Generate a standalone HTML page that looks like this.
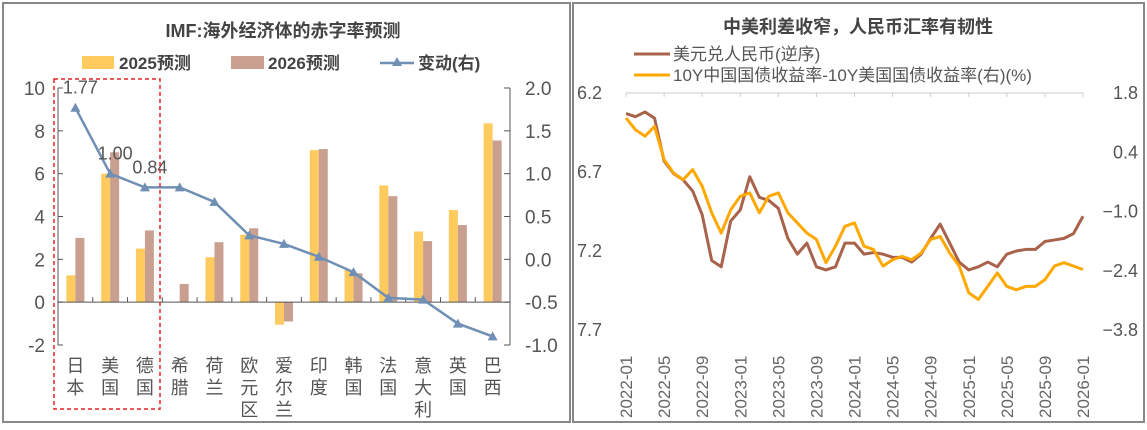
<!DOCTYPE html>
<html><head><meta charset="utf-8"><style>
html,body{margin:0;padding:0;background:#fff;}
body{width:1147px;height:425px;overflow:hidden;font-family:"Liberation Sans","Noto Sans CJK SC",sans-serif;}
svg text{font-family:"Liberation Sans","Noto Sans CJK SC",sans-serif;}
</style></head><body>
<svg id="s" width="1147" height="425" viewBox="0 0 1147 425">
<rect x="3" y="3" width="567" height="419" fill="none" stroke="#888" stroke-width="2"/>
<rect x="573" y="3" width="571" height="419" fill="none" stroke="#888" stroke-width="2"/>
<text x="283" y="37" text-anchor="middle" font-size="18" font-weight="bold" fill="#444">IMF:海外经济体的赤字率预测</text>
<g>
<rect x="82" y="56" width="32" height="13" fill="#FFCA5E"/>
<text x="119" y="69" font-size="17" font-weight="bold" fill="#444">2025预测</text>
<rect x="231" y="56" width="33" height="13" fill="#C9A090"/>
<text x="268" y="69" font-size="17" font-weight="bold" fill="#444">2026预测</text>
<line x1="380" y1="63" x2="414" y2="63" stroke="#6F8FB5" stroke-width="2.5"/>
<polygon points="397,57 402,66 392,66" fill="#6F8FB5"/>
<text x="418" y="69" font-size="17" font-weight="bold" fill="#444">变动(右)</text>
</g>
<g id="left"></g>
<rect x="54" y="79" width="106" height="330" fill="none" stroke="#E82020" stroke-width="1.5" stroke-dasharray="4,3"/>
<text x="858" y="33" text-anchor="middle" font-size="18" font-weight="bold" fill="#444">中美利差收窄，人民币汇率有韧性</text>
<g>
<line x1="634" y1="54" x2="670" y2="54" stroke="#A8634A" stroke-width="3"/>
<text x="673" y="60" font-size="17" fill="#555">美元兑人民币(逆序)</text>
<line x1="634" y1="75" x2="670" y2="75" stroke="#FFA800" stroke-width="3"/>
<text x="673" y="81" font-size="17" fill="#555">10Y中国国债收益率-10Y美国国债收益率(右)(%)</text>
</g>
<g id="right"></g>
</svg>
<script>
const categories=["日本","美国","德国","希腊","荷兰","欧元区","爱尔兰","印度","韩国","法国","意大利","英国","巴西"];
const deficit2025=[1.25,6.0,2.5,null,2.1,3.15,-1.05,7.1,1.5,5.45,3.3,4.3,8.35];
const deficit2026=[3.0,7.0,3.35,0.85,2.8,3.45,-0.9,7.15,1.35,4.95,2.85,3.6,7.55];
const change=[1.77,1.00,0.84,0.84,0.67,0.28,0.18,0.03,-0.15,-0.45,-0.47,-0.75,-0.9];
const changeLabels=["1.77","1.00","0.84"];
const leftTicks=[10,8,6,4,2,0,-2];
const rightTicks=[2.0,1.5,1.0,0.5,0.0,-0.5,-1.0];

const months=["2022-01","2022-05","2022-09","2023-01","2023-05","2023-09","2024-01","2024-05","2024-09","2025-01","2025-05","2025-09","2026-01"];
const cny=[6.33,6.35,6.32,6.36,6.63,6.71,6.75,6.82,6.97,7.26,7.30,7.01,6.94,6.73,6.86,6.88,6.93,7.12,7.22,7.15,7.30,7.32,7.30,7.15,7.15,7.22,7.21,7.22,7.24,7.24,7.27,7.22,7.12,7.03,7.15,7.27,7.32,7.30,7.27,7.30,7.22,7.20,7.19,7.19,7.14,7.13,7.12,7.09,6.98];
const spread=[1.21,0.93,0.78,1.01,0.23,-0.09,-0.25,-0.01,-0.40,-1.03,-1.51,-0.96,-0.64,-0.56,-1.03,-0.64,-0.56,-1.03,-1.27,-1.51,-1.66,-2.21,-1.82,-1.35,-1.27,-1.82,-1.90,-2.29,-2.14,-2.06,-2.14,-1.98,-1.66,-1.59,-1.98,-2.29,-2.92,-3.08,-2.77,-2.45,-2.77,-2.85,-2.77,-2.77,-2.61,-2.29,-2.21,-2.29,-2.37];
const cnyTicks=["6.2","6.7","7.2","7.7"];
const spreadTicks=["1.8","0.4","-1.0","-2.4","-3.8"];

const NS="http://www.w3.org/2000/svg";
function mk(parent,tag,attrs,text){const e=document.createElementNS(NS,tag);for(const k in attrs)e.setAttribute(k,attrs[k]);if(text!==undefined)e.textContent=text;parent.appendChild(e);return e;}

const L=document.getElementById('left');
const x0=58,x1=510,yTop=88,yBot=345;
const yL=v=>yTop+(10-v)*(yBot-yTop)/12;
const yR=v=>yTop+(2-v)*(yBot-yTop)/3;
const cw=(x1-x0)/categories.length;
const xc=i=>x0+cw*(i+0.5);
let e;
leftTicks.forEach(t=>{
  e=mk(L,'text',{x:45,y:yL(t)+7,'text-anchor':'end','font-size':19,fill:'#555'},String(t));
  
  
});
rightTicks.forEach(t=>{
  e=mk(L,'text',{x:525,y:yR(t)+7,'font-size':19,fill:'#555'},t.toFixed(1));
  
  
  e=mk(L,'line',{x1:x1-6,x2:x1,y1:yR(t),y2:yR(t),stroke:'#555'});
  
  
});
leftTicks.forEach(t=>{
  e=mk(L,'line',{x1:x0,x2:x0+5,y1:yL(t),y2:yL(t),stroke:'#555'});
  
  
});
e=mk(L,'line',{x1:x0,x2:x0,y1:yTop,y2:yBot,stroke:'#555'});


e=mk(L,'line',{x1:x1,x2:x1,y1:yTop,y2:yBot,stroke:'#555'});


const bw=9;
categories.forEach((c,i)=>{
  const v1=deficit2025[i],v2=deficit2026[i];
  if(v1!==null){
    e=mk(L,'rect',{x:xc(i)-bw,y:Math.min(yL(v1),yL(0)),width:bw,height:Math.abs(yL(v1)-yL(0)),fill:'#FFCA5E'});
    
    
  }
  e=mk(L,'rect',{x:xc(i),y:Math.min(yL(v2),yL(0)),width:bw,height:Math.abs(yL(v2)-yL(0)),fill:'#C9A090'});
  
  
  [...c].forEach((ch,k)=>{
    e=mk(L,'text',{x:xc(i),y:372+k*22,'text-anchor':'middle','font-size':18,fill:'#555'},ch);
    
    
  });
  e=mk(L,'line',{x1:x0+cw*i,x2:x0+cw*i,y1:yL(0),y2:yL(0)-5,stroke:'#555'});
  
  
});
e=mk(L,'line',{x1:x0,x2:x1,y1:yL(0),y2:yL(0),stroke:'#555'});


e=mk(L,'polyline',{points:change.map((v,i)=>xc(i)+','+yR(v)).join(' '),fill:'none',stroke:'#6F8FB5','stroke-width':2.5});


change.forEach((v,i)=>{
  const x=xc(i),y=yR(v);
  e=mk(L,'polygon',{points:`${x},${y-5} ${x+5},${y+4} ${x-5},${y+4}`,fill:'#6F8FB5'});
  
  
});
changeLabels.forEach((t,i)=>{
  e=mk(L,'text',{x:xc(i)+5,y:yR(change[i])-14,'text-anchor':'middle','font-size':18,fill:'#555'},t);
  
  
});

const R=document.getElementById('right');
const rx0=626,rx1=1083,ry0=93,ry1=330;
const xm=i=>rx0+i*(rx1-rx0)/48;
const yC=v=>ry0+(v-6.2)*(ry1-ry0)/1.5;
const yS=v=>ry0+(1.8-v)*(ry1-ry0)/5.6;
e=mk(R,'line',{x1:rx0,x2:rx1,y1:ry0,y2:ry0,stroke:'#ccc'});


months.forEach((m,k)=>{
  const x=xm(k*4);
  e=mk(R,'line',{x1:x,x2:x,y1:ry0,y2:ry0+4,stroke:'#ccc'});
  
  
  e=mk(R,'text',{x:0,y:0,transform:`translate(${x+6},418) rotate(-90)`,'font-size':17,fill:'#666'},m);
  
  
});
cnyTicks.forEach(t=>{
  e=mk(R,'text',{x:577,y:yC(+t)+6,'font-size':18,fill:'#555'},t);
  
  
});
spreadTicks.forEach(t=>{
  e=mk(R,'text',{x:1138,y:yS(+t)+6,'text-anchor':'end','font-size':18,fill:'#555'},t.replace('-','−'));
  
  
});
e=mk(R,'polyline',{points:cny.map((v,i)=>xm(i)+','+yC(v)).join(' '),fill:'none',stroke:'#A8634A','stroke-width':3,'stroke-linejoin':'round'});


e=mk(R,'polyline',{points:spread.map((v,i)=>xm(i)+','+yS(v)).join(' '),fill:'none',stroke:'#FFA800','stroke-width':3,'stroke-linejoin':'round'});


</script>
</body></html>
